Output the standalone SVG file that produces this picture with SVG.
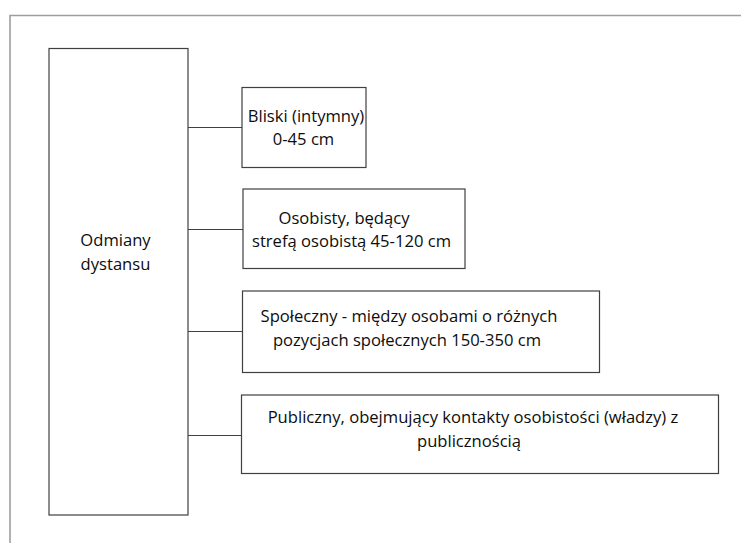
<svg xmlns="http://www.w3.org/2000/svg" width="741" height="543" viewBox="0 0 741 543">
  <style>
    .box { fill: #ffffff; stroke: #404040; stroke-width: 1.2; }
    .page { fill: none; stroke: #9e9e9e; stroke-width: 1.6; }
    .link { fill: none; stroke: #404040; stroke-width: 1.2; }
    text { font-family: "Open Sans", "Liberation Sans", sans-serif; font-size: 16.6px; fill: #0d0d0d; text-anchor: middle; }
  </style>
  <rect width="741" height="543" fill="#ffffff"/>
  <!-- page frame -->
  <path class="page" d="M10 543 V15.5 H741"/>

  <g id="connectors">
    <line class="link" x1="188" y1="127.5" x2="242" y2="127.5"/>
    <line class="link" x1="188" y1="229.5" x2="243" y2="229.5"/>
    <line class="link" x1="188" y1="331.5" x2="242.5" y2="331.5"/>
    <line class="link" x1="188" y1="435.5" x2="241.5" y2="435.5"/>
  </g>

  <g id="odmiany">
    <rect class="box" x="49" y="48.5" width="139" height="466.5"/>
    <text x="115.5" y="246">Odmiany</text>
    <text x="115.5" y="270">dystansu</text>
  </g>

  <g id="bliski">
    <rect class="box" x="242" y="87.5" width="124" height="80"/>
    <text x="306" y="121.5">Bliski (intymny)</text>
    <text x="303.5" y="144.5">0-45 cm</text>
  </g>

  <g id="osobisty">
    <rect class="box" x="243" y="189" width="222" height="79.5"/>
    <text x="344" y="224">Osobisty, będący</text>
    <text x="351.5" y="246.5">strefą osobistą 45-120 cm</text>
  </g>

  <g id="spoleczny">
    <rect class="box" x="242.5" y="291" width="357" height="81.5"/>
    <text x="409" y="322">Społeczny - między osobami o różnych</text>
    <text x="407" y="345.5">pozycjach społecznych 150-350 cm</text>
  </g>

  <g id="publiczny">
    <rect class="box" x="241.5" y="395" width="477" height="78.5"/>
    <text x="473" y="423">Publiczny, obejmujący kontakty osobistości (władzy) z</text>
    <text x="469" y="446.5">publicznością</text>
  </g>
</svg>
